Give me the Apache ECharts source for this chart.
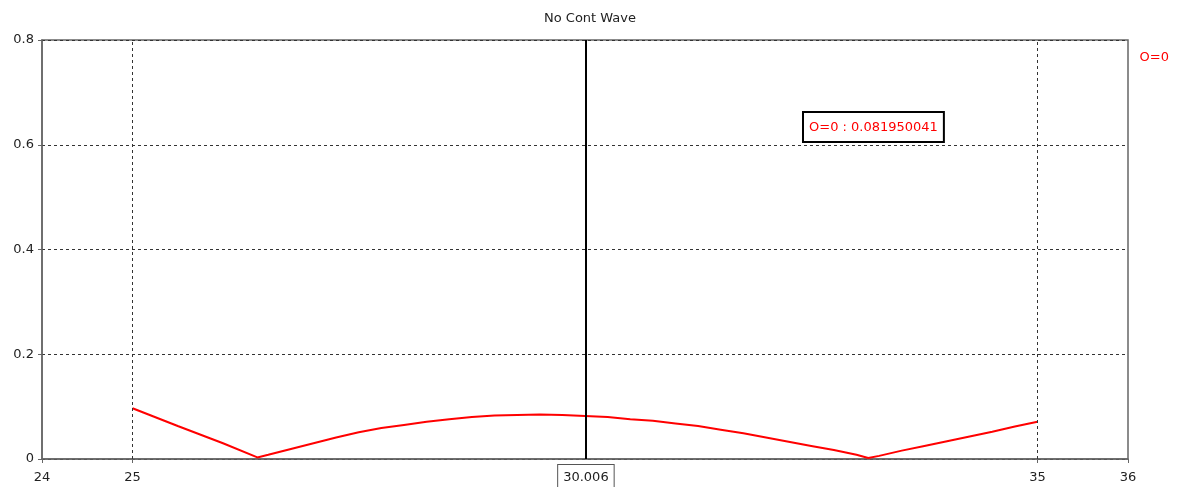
<!DOCTYPE html>
<html>
<head>
<meta charset="utf-8">
<script src="https://cdn.jsdelivr.net/npm/echarts@6/dist/echarts.min.js"></script>
<style>
  html, body { margin: 0; padding: 0; background: #fff; }
  #chart { width: 1188px; height: 487px; }
</style>
</head>
<body>
<div id="chart"></div>
<script>
// position along the axis and the wave value
const xValues = [25, 25.5, 26, 26.38, 26.5, 26.75, 27, 27.25, 27.5, 27.75, 28, 28.25, 28.5, 28.75, 29, 29.25, 29.5, 29.75, 30, 30.25, 30.5, 30.75, 31, 31.25, 31.5, 31.75, 32, 32.25, 32.5, 32.75, 33, 33.13, 33.25, 33.5, 33.75, 34, 34.25, 34.5, 34.75, 35];
const waveValues = [0.097, 0.063, 0.03, 0.003, 0.008, 0.019, 0.03, 0.041, 0.051, 0.059, 0.065, 0.071, 0.076, 0.08, 0.083, 0.084, 0.085, 0.084, 0.082, 0.08, 0.076, 0.073, 0.068, 0.063, 0.056, 0.049, 0.041, 0.033, 0.025, 0.017, 0.008, 0.002, 0.006, 0.016, 0.025, 0.034, 0.043, 0.052, 0.062, 0.071];
const xTickLabels = [24, 25, 35, 36];
const xGridLines = [25, 35];
const cursorX = 30.006;
const seriesName = "O=0";
const cursorText = "O=0 : 0.081950041";

const chart = echarts.init(document.getElementById("chart"));

const font = "Tahoma, 'DejaVu Sans', sans-serif";

chart.setOption({
  animation: false,
  title: {
    text: "No Cont Wave",
    left: 585,
    textAlign: "center",
    top: 7,
    textStyle: { fontFamily: font, fontSize: 13, fontWeight: "normal", color: "#222" }
  },
  legend: {
    right: 14,
    top: 46,
    icon: "none",
    itemWidth: 0,
    itemGap: 0,
    data: [seriesName],
    textStyle: { color: "#ff0000", fontFamily: font, fontSize: 13 }
  },
  grid: {
    left: 42,
    right: 60,
    top: 40,
    bottom: 28,
    show: true,
    borderColor: "#666",
    borderWidth: 1.5,
    backgroundColor: "#fff"
  },
  xAxis: {
    type: "value",
    min: 24,
    max: 36,
    interval: 1,
    axisLine: { lineStyle: { color: "#666", width: 1.5 } },
    axisTick: { show: true, length: 4, customValues: xTickLabels, lineStyle: { color: "#666" } },
    axisLabel: {
      customValues: xTickLabels,
      color: "#222",
      fontFamily: font,
      fontSize: 13,
      margin: 12,
      formatter: v => (xTickLabels.indexOf(v) >= 0 ? String(v) : "")
    },
    splitLine: { show: false }
  },
  yAxis: {
    type: "value",
    min: 0,
    max: 0.8,
    interval: 0.2,
    axisLine: { show: true, lineStyle: { color: "#666", width: 1.5 } },
    axisTick: { show: true, length: 4, lineStyle: { color: "#666" } },
    axisLabel: {
      color: "#222",
      fontFamily: font,
      fontSize: 13,
      margin: 8,
      formatter: v => String(Math.round(v * 10) / 10)
    },
    splitLine: { show: true, lineStyle: { color: "#333", type: [3, 3], width: 1 } }
  },
  series: [
    {
      name: seriesName,
      type: "line",
      data: xValues.map((x, i) => [x, waveValues[i]]),
      showSymbol: false,
      color: "#ff0000",
      lineStyle: { color: "#ff0000", width: 2 },
      markLine: {
        silent: true,
        symbol: "none",
        animation: false,
        data: [
          ...xGridLines.map(x => ({
            xAxis: x,
            lineStyle: { color: "#333", type: [3, 3], width: 1 },
            label: { show: false }
          })),
          {
            xAxis: cursorX,
            lineStyle: { color: "#000", type: "solid", width: 2 },
            label: {
              show: true,
              position: "start",
              formatter: String(cursorX),
              color: "#222",
              fontFamily: font,
              fontSize: 13,
              backgroundColor: "#fff",
              borderColor: "#555",
              borderWidth: 1,
              padding: [6, 5, 4, 5],
              distance: 6
            }
          }
        ]
      }
    }
  ],
  graphic: [
    {
      type: "text",
      left: 802,
      top: 111,
      z: 100,
      style: {
        text: cursorText,
        fill: "#ff0000",
        font: "13px " + font,
        backgroundColor: "#fff",
        borderColor: "#000",
        borderWidth: 2,
        padding: [8, 5, 7, 5]
      }
    }
  ]
});
</script>
</body>
</html>
